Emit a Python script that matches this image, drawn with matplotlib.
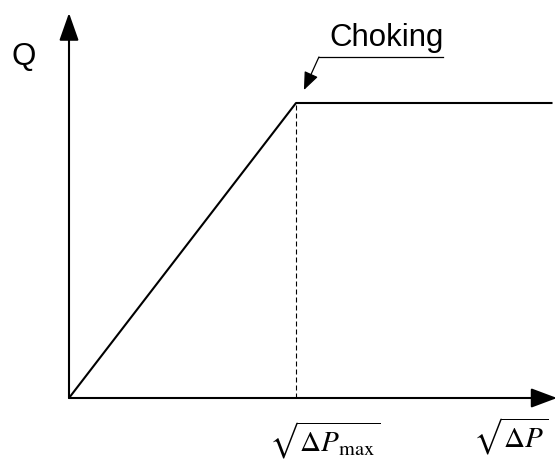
import matplotlib
matplotlib.use("Agg")
import matplotlib.pyplot as plt

plt.rcParams['mathtext.fontset'] = 'stix'

# Data: sqrt(dP) (normalized, choke at 1) vs Q (normalized)
sqrt_dp = [0.0, 1.0, 2.13]
flow_q = [0.0, 1.0, 1.0]
choke_x = 1.0
choke_q = 1.0
x_label = r'$\sqrt{\Delta P}$'
xmax_label = r'$\sqrt{\Delta P_{\max}}$'
y_label = 'Q'
annot_label = 'Choking'

W, H = 559, 462
fig = plt.figure(figsize=(W/100, H/100), dpi=100)
ax = fig.add_axes([0, 0, 1, 1])
sx, sy = 227.0, 295.0
ox, oy = 69.0, 398.0
ax.set_xlim(-ox/sx, (W-ox)/sx)
ax.set_ylim(-(H-oy)/sy, oy/sy)
ax.axis('off')

# axes with arrows
ax.annotate('', xy=((557-ox)/sx, 0), xytext=(0, 0),
            arrowprops=dict(arrowstyle='-|>,head_length=1.6,head_width=0.6',
                            mutation_scale=10, lw=1.5, color='k', shrinkA=0, shrinkB=0))
ax.annotate('', xy=(0, (oy-13)/sy), xytext=(0, 0),
            arrowprops=dict(arrowstyle='-|>,head_length=1.7,head_width=0.6',
                            mutation_scale=10, lw=1.5, color='k', shrinkA=0, shrinkB=0))

# curve
ax.plot(sqrt_dp, flow_q, color='k', lw=1.5, solid_capstyle='butt')
# dashed vertical
ax.plot([choke_x, choke_x], [0, choke_q], color='k', lw=0.8, ls=(0, (4.5, 2.7)))

# Choking annotation
ax.text(1.401, 1.222, annot_label, ha='center', va='center', fontsize=22.5,
        family='Liberation Sans')
ax.plot([1.101, 1.648], [1.156, 1.156], color='k', lw=0.9)
ax.annotate('', xy=(1.035, 1.044), xytext=(1.101, 1.156),
            arrowprops=dict(arrowstyle='-|>,head_length=1.1,head_width=0.45',
                            mutation_scale=10, lw=0.9, color='k', shrinkA=0, shrinkB=0))

ax.text(-0.198, 1.156, y_label, ha='center', va='center', fontsize=22.5,
        family='Liberation Sans')
ax.text(1.126, -0.142, xmax_label, ha='center', va='center', fontsize=21)
ax.text(1.945, -0.129, x_label, ha='center', va='center', fontsize=21)

fig.savefig('out.png', dpi=100)
